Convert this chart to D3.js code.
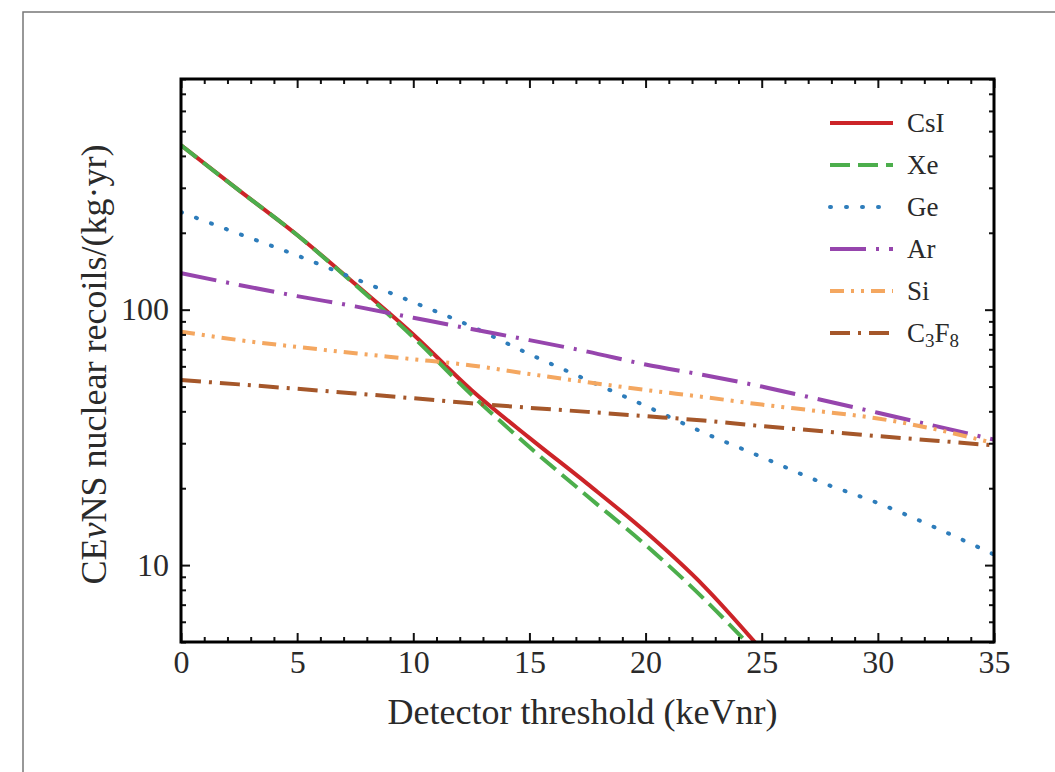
<!DOCTYPE html>
<html><head><meta charset="utf-8">
<script src="https://cdn.jsdelivr.net/npm/d3@7"></script>
<style>body{margin:0;background:#fff}svg{display:block}</style>
</head><body>
<svg id="chart" width="1055" height="772"></svg>
<script>
// ---- data ----
const thresholds = [0, 2.5, 5, 7.5, 10, 12.5, 15, 17.5, 20, 22.5, 25, 27.5, 30, 32.5, 35];
const csiValues  = [440, 293, 196, 126, 80, 48.5, 31.5, 20.8, 13.5, 8.3, 4.65];
const xeValues   = [440, 293, 196, 125, 78, 46.5, 29, 18.6, 12.0, 7.4, 4.32];
const geValues   = [241, 198, 163, 132, 107, 86, 67, 53, 42, 33, 26.5, 21.2, 17.5, 14, 11];
const arValues   = [139, 125, 113, 103, 93, 84, 76, 68.5, 61, 55.5, 50, 44.5, 39.5, 35, 31];
const siValues   = [82, 76, 71.5, 67.5, 64, 60.5, 56, 52, 48.5, 45.5, 42.5, 40, 37.5, 34, 30];
const c3f8Values = [53, 51, 49, 47, 45, 43, 41.3, 39.8, 38.3, 36.8, 35, 33.5, 32, 30.7, 29.4];
const seriesNames = ["CsI", "Xe", "Ge", "Ar", "Si", "C3F8"];
const xTickValues = [0, 5, 10, 15, 20, 25, 30, 35];
const yTickLabels = [10, 100];
const xLabel = "Detector threshold (keVnr)";

// ---- styles ----
const colors = ["#cc2428", "#4cae4c", "#2e7dbb", "#9645ad", "#f4a760", "#a5572a"];
const dashes = ["none", "20,8", "1,15", "36,10,3,10", "14,7,3,7,3,7", "20,8,3,8"];
const caps   = ["butt", "butt", "round", "butt", "butt", "butt"];
const allValues = [csiValues, xeValues, geValues, arValues, siValues, c3f8Values];

const svg = d3.select("#chart");
const M = {left: 181, right: 994, top: 79, bottom: 642};
const font = "'Liberation Serif', 'DejaVu Serif', serif";

// outer frame
svg.append("rect").attr("x", 23).attr("y", 12).attr("width", 1100).attr("height", 820)
  .attr("fill", "none").attr("stroke", "#777").attr("stroke-width", 1.5);

const x = d3.scaleLinear().domain([0, 35]).range([M.left, M.right]);
const y = d3.scaleLog().domain([5, 800]).range([M.bottom, M.top]);

svg.append("clipPath").attr("id", "clip").append("rect")
  .attr("x", M.left).attr("y", M.top).attr("width", M.right - M.left).attr("height", M.bottom - M.top);

const line = d3.line().x(d => x(d[0])).y(d => y(d[1])).curve(d3.curveMonotoneX);
const g = svg.append("g").attr("clip-path", "url(#clip)");
allValues.forEach((vals, i) => {
  const pts = vals.map((v, j) => [thresholds[j], v]);
  g.append("path").datum(pts).attr("d", line)
    .attr("fill", "none").attr("stroke", colors[i]).attr("stroke-width", 4)
    .attr("stroke-dasharray", dashes[i]).attr("stroke-linecap", caps[i]);
});

// ticks
const xMinor = d3.range(0, 36, 1).filter(v => v % 5 !== 0);
const yMinor = [];
[1, 10, 100].forEach(d => { for (let k = 2; k <= 9; k++) { const v = k * d; if (v >= 5 && v <= 800) yMinor.push(v); } });
const yMajor = [10, 100];

function styleAxis(sel) {
  sel.select(".domain").remove();
  sel.selectAll("line").attr("stroke", "#111").attr("stroke-width", 2);
  sel.selectAll("text").attr("font-family", font).attr("font-size", 32).attr("fill", "#2a2a2a");
}
// bottom
svg.append("g").attr("transform", `translate(0,${M.bottom})`)
  .call(d3.axisBottom(x).tickValues(xTickValues).tickSize(-9).tickPadding(8).tickFormat(d3.format("d"))).call(styleAxis);
svg.append("g").attr("transform", `translate(0,${M.bottom})`)
  .call(d3.axisBottom(x).tickValues(xMinor).tickSize(-5).tickFormat("")).call(styleAxis);
// top
svg.append("g").attr("transform", `translate(0,${M.top})`)
  .call(d3.axisTop(x).tickValues(xTickValues).tickSize(-9).tickFormat("")).call(styleAxis);
svg.append("g").attr("transform", `translate(0,${M.top})`)
  .call(d3.axisTop(x).tickValues(xMinor).tickSize(-5).tickFormat("")).call(styleAxis);
// left
svg.append("g").attr("transform", `translate(${M.left},0)`)
  .call(d3.axisLeft(y).tickValues(yTickLabels).tickSize(-9).tickPadding(12).tickFormat(d3.format("d"))).call(styleAxis);
svg.append("g").attr("transform", `translate(${M.left},0)`)
  .call(d3.axisLeft(y).tickValues(yMinor).tickSize(-5).tickFormat("")).call(styleAxis);
// right
svg.append("g").attr("transform", `translate(${M.right},0)`)
  .call(d3.axisRight(y).tickValues(yMajor).tickSize(-9).tickFormat("")).call(styleAxis);
svg.append("g").attr("transform", `translate(${M.right},0)`)
  .call(d3.axisRight(y).tickValues(yMinor).tickSize(-5).tickFormat("")).call(styleAxis);

// frame
svg.append("rect").attr("x", M.left).attr("y", M.top).attr("width", M.right - M.left).attr("height", M.bottom - M.top)
  .attr("fill", "none").attr("stroke", "#000").attr("stroke-width", 3);

// axis labels
svg.append("text").attr("x", (M.left + M.right) / 2 - 5).attr("y", 724).attr("text-anchor", "middle")
  .attr("font-family", font).attr("font-size", 36).attr("fill", "#2a2a2a").text(xLabel);
const yl = svg.append("text").attr("transform", `translate(106,${(M.top + M.bottom) / 2 + 4}) rotate(-90)`)
  .attr("text-anchor", "middle").attr("font-family", font).attr("font-size", 36).attr("fill", "#2a2a2a");
yl.append("tspan").text("CE");
yl.append("tspan").attr("font-style", "italic").text("ν");
yl.append("tspan").text("NS nuclear recoils/(kg·yr)");

// legend
const legY0 = 123, legDy = 42;
seriesNames.forEach((name, i) => {
  const ly = legY0 + i * legDy;
  svg.append("line").attr("x1", 830).attr("x2", 893).attr("y1", ly).attr("y2", ly)
    .attr("stroke", colors[i]).attr("stroke-width", 4)
    .attr("stroke-dasharray", dashes[i]).attr("stroke-linecap", caps[i]);
  const t = svg.append("text").attr("x", 907).attr("y", ly + 9)
    .attr("font-family", font).attr("font-size", 27).attr("fill", "#2a2a2a");
  if (name === "C3F8") {
    t.append("tspan").text("C");
    t.append("tspan").attr("font-size", 19).attr("dy", 5).text("3");
    t.append("tspan").attr("dy", -5).text("F");
    t.append("tspan").attr("font-size", 19).attr("dy", 5).text("8");
  } else {
    t.text(name);
  }
});
</script>
</body></html>
